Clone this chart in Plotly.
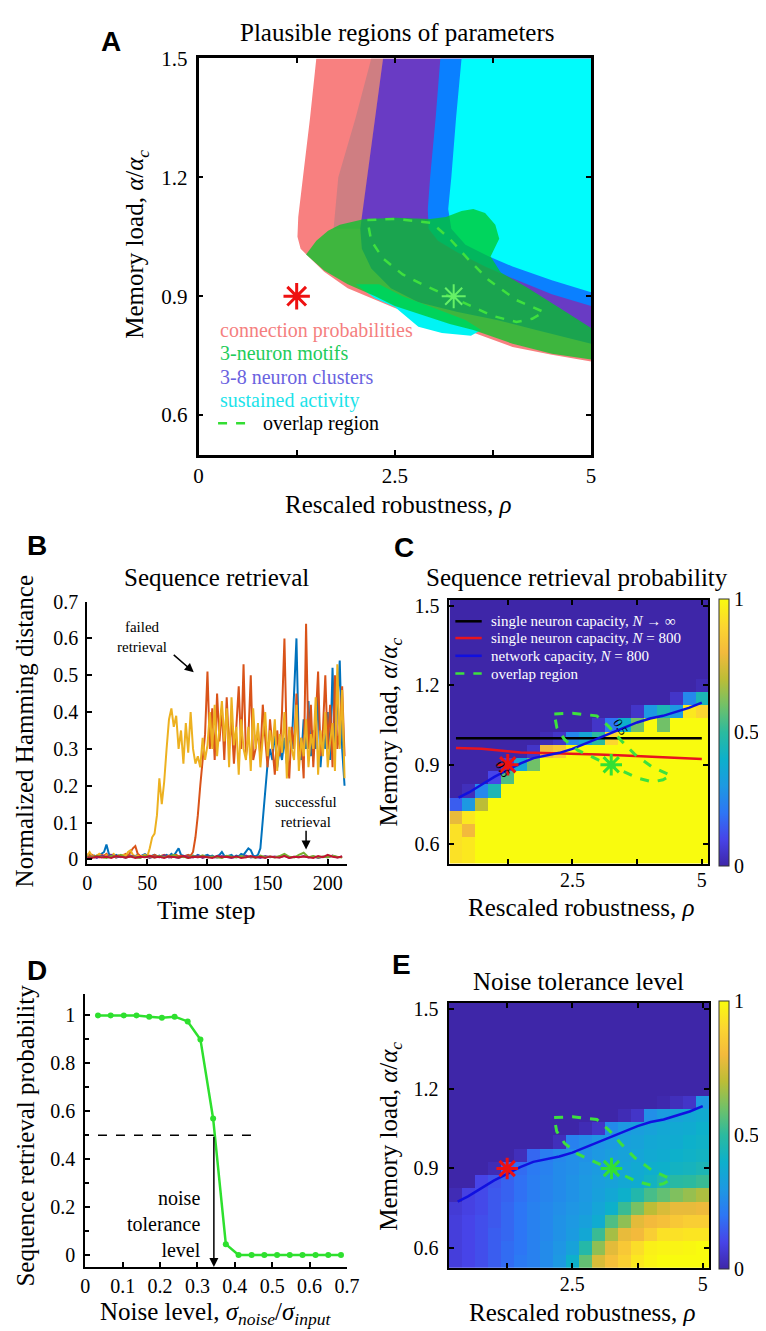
import plotly.graph_objects as go

W, H = 766, 1331
def px(v): return v / W
def py(v): return 1 - v / H

SERIF = "Liberation Serif"
SANS = "Liberation Sans"

# ---------------- Panel A: plausible regions ----------------
rho_ticks = [0, 1.25, 2.5, 3.75, 5]
rho_ticktext = ["0", "", "2.5", "", "5"]
load_ticks = [0.6, 0.9, 1.2, 1.5]
load_ticktext = ["0.6", "0.9", "1.2", "1.5"]

pink_x = [1.50, 1.42, 1.33, 1.27, 1.26, 1.30, 1.40, 1.60, 1.90, 2.25, 2.50, 3.00, 3.47, 4.00, 4.50, 5.00, 5.00]
pink_y = [1.50, 1.35, 1.20, 1.10, 1.05, 1.02, 1.00, 0.962, 0.92, 0.89, 0.87, 0.84, 0.81, 0.772, 0.752, 0.735, 1.50]

dusty_x = [2.20, 2.00, 1.78, 1.74, 1.72, 2.08, 2.10, 2.15, 2.25, 2.35]
dusty_y = [1.50, 1.35, 1.20, 1.10, 1.07, 1.07, 1.12, 1.20, 1.35, 1.50]

purple_x = [2.35, 2.25, 2.15, 2.10, 2.06, 2.08, 2.20, 2.45, 2.80, 3.30, 3.80, 4.30, 5.00, 5.00]
purple_y = [1.50, 1.35, 1.20, 1.12, 1.07, 1.02, 0.97, 0.92, 0.885, 0.86, 0.84, 0.815, 0.78, 1.50]

blue_x = [3.08, 3.02, 2.95, 2.92, 2.93, 3.05, 3.30, 3.65, 4.00, 4.50, 5.00, 5.00]
blue_y = [1.50, 1.35, 1.20, 1.12, 1.07, 1.04, 1.01, 0.975, 0.945, 0.905, 0.875, 1.50]

cyan_x = [3.35, 3.28, 3.22, 3.18, 3.22, 3.40, 3.70, 4.00, 4.50, 5.00, 5.00]
cyan_y = [1.50, 1.35, 1.20, 1.12, 1.07, 1.03, 1.00, 0.975, 0.94, 0.91, 1.50]

cblob_x = [2.00, 2.25, 2.50, 2.80, 3.10, 3.47, 3.60, 3.40, 3.00, 2.60, 2.30]
cblob_y = [0.93, 0.894, 0.873, 0.823, 0.807, 0.80, 0.815, 0.84, 0.87, 0.90, 0.93]

motif_x = [1.37, 1.50, 1.65, 1.80, 2.10, 2.50, 2.95, 3.15, 3.35, 3.50, 3.65, 3.78, 3.83, 3.72, 3.85, 4.20, 4.60, 5.00,
           5.00, 4.50, 4.00, 3.50, 3.20, 2.90, 2.50, 2.25, 1.90, 1.60, 1.37]
motif_y = [1.005, 1.04, 1.065, 1.08, 1.094, 1.098, 1.095, 1.10, 1.115, 1.12, 1.11, 1.08, 1.045, 1.00, 0.96, 0.92, 0.87, 0.82,
           0.74, 0.755, 0.78, 0.815, 0.83, 0.85, 0.875, 0.90, 0.93, 0.965, 1.005]

overlap_x = [2.15, 2.50, 2.97, 3.20, 3.45, 3.70, 4.05, 4.30, 4.40, 4.25, 4.05, 3.75, 3.31, 2.90, 2.60, 2.35, 2.20, 2.15]
overlap_y = [1.092, 1.095, 1.085, 1.045, 0.99, 0.94, 0.89, 0.87, 0.86, 0.843, 0.835, 0.85, 0.89, 0.925, 0.955, 0.995, 1.04, 1.092]

star_red = (1.25, 0.9)
star_green = (3.25, 0.9)

legendA_labels = ["connection probabilities", "3-neuron motifs", "3-8 neuron clusters", "sustained activity"]
legendA_colors = ["#F57F7F", "#22CC5A", "#6A62E0", "#1CE3EA"]

# ---------------- Panel B: sequence retrieval ----------------
hd_yellow = [0.01, 0.02, 0.01, 0.005, 0.01, 0.015, 0.01, 0.005, 0.012, 0.008, 0.01, 0.015, 0.006, 0.01, 0.008, 0.012,
             0.01, 0.02, 0.025, 0.012, 0.008, 0.01, 0.006, 0.01, 0.012, 0.008,
             0.03, 0.06, 0.07, 0.12, 0.22, 0.15, 0.21, 0.30, 0.38, 0.41, 0.36, 0.39, 0.30, 0.35, 0.26, 0.37, 0.29, 0.40,
             0.30, 0.26, 0.28, 0.25, 0.33, 0.27, 0.31, 0.40, 0.30, 0.42, 0.28, 0.36, 0.43, 0.32, 0.41, 0.25, 0.44, 0.31,
             0.36, 0.23, 0.38, 0.30, 0.27, 0.36, 0.24, 0.41, 0.30, 0.37, 0.25, 0.33, 0.40, 0.28, 0.35, 0.30, 0.38, 0.24,
             0.34, 0.29, 0.40, 0.22, 0.36, 0.30, 0.27, 0.42, 0.24, 0.33, 0.28, 0.38, 0.25, 0.34, 0.30, 0.44, 0.23, 0.35,
             0.28, 0.40, 0.25, 0.32, 0.37, 0.24, 0.53, 0.30, 0.46, 0.22]
hd_orange = [0.015, 0.01, 0.012, 0.008, 0.01, 0.006, 0.012, 0.01, 0.015, 0.008, 0.01, 0.012, 0.005, 0.01, 0.008, 0.012,
             0.015, 0.01, 0.02, 0.03, 0.036, 0.015, 0.01, 0.008, 0.012, 0.006, 0.01, 0.008, 0.012, 0.01, 0.006, 0.01,
             0.012, 0.008, 0.01, 0.005, 0.01, 0.012, 0.008, 0.01, 0.006, 0.01, 0.012, 0.01,
             0.02, 0.06, 0.12, 0.20, 0.27, 0.34, 0.51, 0.30, 0.41, 0.27, 0.45, 0.32, 0.41, 0.27, 0.44, 0.30, 0.38, 0.26,
             0.36, 0.47, 0.30, 0.53, 0.28, 0.33, 0.50, 0.27, 0.30, 0.35, 0.28, 0.42, 0.33, 0.25, 0.38, 0.30, 0.23, 0.35,
             0.28, 0.40, 0.60, 0.30, 0.22, 0.36, 0.30, 0.45, 0.27, 0.33, 0.22, 0.64, 0.30, 0.42, 0.25, 0.38, 0.51, 0.28,
             0.35, 0.50, 0.30, 0.42, 0.25, 0.50, 0.30, 0.35, 0.47, 0.28]
hd_blue = [0.01, 0.012, 0.008, 0.01, 0.006, 0.01, 0.015, 0.02, 0.04, 0.015, 0.01, 0.008, 0.012, 0.01, 0.006, 0.01,
           0.012, 0.008, 0.01, 0.006, 0.01, 0.012, 0.008, 0.01, 0.014, 0.01, 0.006, 0.01, 0.012, 0.008, 0.01, 0.006,
           0.01, 0.012, 0.008, 0.015, 0.01, 0.02, 0.03, 0.012,
           0.01, 0.008, 0.012, 0.006, 0.01, 0.008, 0.012, 0.01, 0.006, 0.01, 0.012, 0.008, 0.01, 0.006, 0.01, 0.012,
           0.02, 0.01, 0.008, 0.01, 0.012, 0.006, 0.01, 0.008, 0.015, 0.012, 0.02, 0.03, 0.025, 0.01, 0.008, 0.012,
           0.03, 0.10, 0.18, 0.26, 0.30, 0.27, 0.35, 0.25, 0.30, 0.27, 0.33, 0.26, 0.35, 0.30, 0.45, 0.60, 0.30, 0.27,
           0.38, 0.30, 0.43, 0.28, 0.35, 0.30, 0.45, 0.25, 0.34, 0.30, 0.40, 0.27, 0.52, 0.30, 0.42, 0.54, 0.30, 0.20]
hd_purple = [0.005, 0.008, 0.004, 0.01, 0.006, 0.012, 0.005, 0.008, 0.004, 0.01, 0.007, 0.005, 0.009, 0.004, 0.008,
             0.006, 0.011, 0.005, 0.007, 0.004, 0.009, 0.006, 0.005, 0.01, 0.004, 0.008, 0.006, 0.005, 0.009, 0.007,
             0.004, 0.008, 0.006, 0.01, 0.005, 0.007, 0.004, 0.009, 0.006, 0.008, 0.005, 0.01, 0.004, 0.007, 0.006,
             0.009, 0.005, 0.008, 0.004, 0.007, 0.006, 0.01, 0.005, 0.008]
hd_green = [0.008, 0.005, 0.01, 0.006, 0.004, 0.009, 0.007, 0.012, 0.005, 0.008, 0.006, 0.004, 0.01, 0.007, 0.005,
            0.009, 0.006, 0.008, 0.012, 0.005, 0.007, 0.004, 0.009, 0.006, 0.011, 0.005, 0.008, 0.006, 0.004, 0.01,
            0.007, 0.005, 0.009, 0.006, 0.008, 0.004, 0.01, 0.006, 0.008, 0.005, 0.009, 0.015, 0.007, 0.005, 0.012,
            0.018, 0.006, 0.009, 0.005, 0.008, 0.006, 0.01, 0.007, 0.005]
hd_red = [0.006, 0.004, 0.008, 0.005, 0.007, 0.004, 0.009, 0.006, 0.005, 0.008, 0.004, 0.007, 0.006, 0.009, 0.005,
          0.007, 0.004, 0.008, 0.006, 0.005, 0.009, 0.004, 0.007, 0.006, 0.008, 0.005, 0.004, 0.009, 0.006, 0.007,
          0.005, 0.008, 0.004, 0.006, 0.009, 0.005, 0.007, 0.004, 0.008, 0.006, 0.005, 0.009, 0.004, 0.007, 0.006,
          0.008, 0.005, 0.004, 0.009, 0.006, 0.012, 0.007, 0.005, 0.008]

# ---------------- Panel C/E grids ----------------
rho_centers = [0.25, 0.5, 0.75, 1.0, 1.25, 1.5, 1.75, 2.0, 2.25, 2.5, 2.75, 3.0, 3.25, 3.5, 3.75, 4.0, 4.25, 4.5, 4.75, 5.0]
load_centers = [0.55, 0.6, 0.65, 0.7, 0.75, 0.8, 0.85, 0.9, 0.95, 1.0, 1.05, 1.1, 1.15, 1.2, 1.25, 1.3, 1.35, 1.4, 1.45, 1.5]
cb_ticks = [0, 0.5, 1]
cb_ticktext = ["0", "0.5", "1"]

Z0 = [0] * 20
retrieval_prob = [
    [0.93, 0.95, 1, 1, 1, 1, 1, 1, 1, 1, 1, 1, 1, 1, 1, 1, 1, 1, 1, 1],
    [0.93, 0.95, 1, 1, 1, 1, 1, 1, 1, 1, 1, 1, 1, 1, 1, 1, 1, 1, 1, 1],
    [0.93, 0.80, 1, 1, 1, 1, 1, 1, 1, 1, 1, 1, 1, 1, 1, 1, 1, 1, 1, 1],
    [0.78, 0.95, 1, 1, 1, 1, 1, 1, 1, 1, 1, 1, 1, 1, 1, 1, 1, 1, 1, 1],
    [0.15, 0.30, 0.70, 1, 1, 1, 1, 1, 1, 1, 1, 1, 1, 1, 1, 1, 1, 1, 1, 1],
    [0, 0.03, 0.25, 0.45, 1, 1, 1, 1, 1, 1, 1, 1, 1, 1, 1, 1, 1, 1, 1, 1],
    [0, 0, 0, 0.10, 0.55, 1, 1, 1, 1, 1, 1, 1, 1, 1, 1, 1, 1, 1, 1, 1],
    [0, 0, 0, 0, 0.08, 0.35, 0.60, 1, 1, 1, 1, 1, 1, 1, 1, 1, 1, 1, 1, 1],
    [0, 0, 0, 0, 0, 0, 0.05, 0.80, 0.85, 1, 1, 1, 1, 1, 1, 1, 1, 1, 1, 1],
    [0, 0, 0, 0, 0, 0, 0, 0.02, 0.05, 0.25, 0.35, 0.50, 0.90, 1, 1, 1, 1, 1, 1, 1],
    [0, 0, 0, 0, 0, 0, 0, 0, 0, 0, 0, 0.05, 0.20, 0.40, 0.60, 1, 0.60, 1, 1, 1],
    [0, 0, 0, 0, 0, 0, 0, 0, 0, 0, 0, 0, 0, 0, 0.05, 0.30, 0.45, 0.30, 0.95, 0.90],
    [0, 0, 0, 0, 0, 0, 0, 0, 0, 0, 0, 0, 0, 0, 0, 0, 0, 0.05, 0.25, 0.45],
    [0, 0, 0, 0, 0, 0, 0, 0, 0, 0, 0, 0, 0, 0, 0, 0, 0, 0, 0, 0.02],
    Z0, Z0, Z0, Z0, Z0, Z0,
]

noise_tol = [
    [0.08, 0.10, 0.12, 0.15, 0.18, 0.21, 0.23, 0.26, 0.30, 0.40, 0.58, 0.75, 0.82, 0.88, 0.95, 0.98, 1.0, 1.0, 1.0, 1.0],
    [0.08, 0.10, 0.12, 0.15, 0.18, 0.20, 0.23, 0.26, 0.29, 0.34, 0.48, 0.64, 0.77, 0.85, 0.92, 0.97, 0.98, 0.98, 0.99, 1.0],
    [0.08, 0.10, 0.12, 0.15, 0.17, 0.20, 0.23, 0.25, 0.28, 0.31, 0.36, 0.52, 0.67, 0.78, 0.80, 0.87, 0.93, 0.93, 0.94, 0.94],
    [0.08, 0.10, 0.12, 0.14, 0.17, 0.20, 0.23, 0.25, 0.28, 0.30, 0.33, 0.38, 0.55, 0.64, 0.77, 0.80, 0.82, 0.85, 0.87, 0.87],
    [0.07, 0.09, 0.11, 0.14, 0.17, 0.20, 0.23, 0.25, 0.27, 0.29, 0.31, 0.35, 0.40, 0.52, 0.61, 0.70, 0.75, 0.78, 0.78, 0.79],
    [0.02, 0.09, 0.11, 0.14, 0.16, 0.19, 0.22, 0.24, 0.26, 0.28, 0.30, 0.33, 0.36, 0.40, 0.47, 0.54, 0.58, 0.62, 0.65, 0.68],
    [0, 0, 0.10, 0.13, 0.16, 0.19, 0.22, 0.24, 0.26, 0.28, 0.30, 0.32, 0.34, 0.36, 0.38, 0.42, 0.47, 0.49, 0.50, 0.52],
    [0, 0, 0, 0.02, 0.15, 0.18, 0.21, 0.23, 0.26, 0.27, 0.29, 0.31, 0.33, 0.35, 0.37, 0.39, 0.40, 0.42, 0.43, 0.45],
    [0, 0, 0, 0, 0, 0.03, 0.17, 0.22, 0.25, 0.27, 0.28, 0.30, 0.32, 0.34, 0.35, 0.37, 0.38, 0.40, 0.41, 0.42],
    [0, 0, 0, 0, 0, 0, 0, 0, 0.03, 0.23, 0.26, 0.29, 0.31, 0.33, 0.34, 0.36, 0.37, 0.38, 0.40, 0.41],
    [0, 0, 0, 0, 0, 0, 0, 0, 0, 0, 0.02, 0.05, 0.26, 0.30, 0.32, 0.34, 0.36, 0.37, 0.38, 0.40],
    [0, 0, 0, 0, 0, 0, 0, 0, 0, 0, 0, 0, 0, 0.02, 0.05, 0.27, 0.31, 0.34, 0.36, 0.38],
    [0, 0, 0, 0, 0, 0, 0, 0, 0, 0, 0, 0, 0, 0, 0, 0, 0.01, 0.03, 0.05, 0.30],
    Z0, Z0, Z0, Z0, Z0, Z0, Z0,
]

cap_x = [0.30, 0.50, 0.75, 1.00, 1.25, 1.50, 1.75, 2.00, 2.25, 2.50, 2.75, 3.00, 3.25, 3.50, 3.75, 4.00, 4.25, 4.50, 4.75, 5.00]
cap_y = [0.775, 0.795, 0.825, 0.855, 0.88, 0.905, 0.925, 0.935, 0.945, 0.96, 0.98, 1.00, 1.02, 1.04, 1.06, 1.075, 1.085, 1.10, 1.115, 1.135]
single_inf_x = [0.25, 5.0]
single_inf_y = [1.0, 1.0]
single_800_x = [0.25, 0.50, 0.75, 1.00, 1.25, 1.50, 1.75, 2.00, 2.50, 3.00, 3.50, 4.00, 4.50, 5.00]
single_800_y = [0.963, 0.962, 0.96, 0.956, 0.952, 0.946, 0.945, 0.944, 0.942, 0.939, 0.935, 0.931, 0.926, 0.922]

# ---------------- Panel D ----------------
noise_level = [0.034, 0.068, 0.103, 0.137, 0.171, 0.205, 0.239, 0.274, 0.308, 0.342, 0.376, 0.410, 0.445, 0.479,
               0.513, 0.547, 0.581, 0.616, 0.650, 0.684]
retr_prob = [1.0, 1.0, 1.0, 1.0, 0.995, 0.99, 0.995, 0.975, 0.90, 0.57, 0.045, 0.0, 0.0, 0.0, 0.0, 0.0, 0.0, 0.0, 0.0, 0.0]
half_x = [0.034, 0.462]
half_y = [0.5, 0.5]
tol_level = 0.344

parula = [[0.0, "#3E26A8"], [0.1, "#4744E8"], [0.2, "#2D76F5"], [0.3, "#1D99E2"], [0.4, "#0DB0CB"],
          [0.5, "#2BBA9F"], [0.6, "#71C168"], [0.7, "#BCBD36"], [0.8, "#F3BA3C"], [0.9, "#FCD630"], [1.0, "#F9FB0E"]]

fig = go.Figure()

def add(tr):
    fig.add_trace(tr)

def poly(x, y, color, xa="x", ya="y"):
    add(go.Scatter(x=x, y=y, mode="lines", fill="toself", fillcolor=color, line=dict(width=0, color=color),
                   hoverinfo="skip", showlegend=False, xaxis=xa, yaxis=ya))

def star(pt, color, size, width, xa, ya):
    add(go.Scatter(x=[pt[0]], y=[pt[1]], mode="markers", showlegend=False, hoverinfo="skip", xaxis=xa, yaxis=ya,
                   marker=dict(symbol="asterisk-open", size=size, color=color, line=dict(color=color, width=width))))

# Panel A
poly(pink_x, pink_y, "#F88080")
poly(dusty_x, dusty_y, "#CF7E82")
poly(purple_x, purple_y, "#693BC4")
poly(blue_x, blue_y, "#0A80FF")
poly(cyan_x, cyan_y, "#00FCFC")
poly(cblob_x, cblob_y, "#00F4F4")
poly(motif_x, motif_y, "rgba(0,200,40,0.75)")
add(go.Scatter(x=overlap_x, y=overlap_y, mode="lines", line=dict(color="#3EE03E", width=2.5, dash="dash"),
               showlegend=False, hoverinfo="skip", xaxis="x", yaxis="y"))
star(star_red, "#EE1111", 22, 3, "x", "y")
star(star_green, "#66F066", 20, 2, "x", "y")

# Panel B
for vals, col in [(hd_blue, "#0072BD"), (hd_orange, "#D95319"), (hd_yellow, "#EDB120")]:
    add(go.Scatter(x=[2 * i for i in range(len(vals))], y=vals, mode="lines", line=dict(color=col, width=2),
                   showlegend=False, hoverinfo="skip", xaxis="x2", yaxis="y2"))
for vals, col in [(hd_purple, "#7E2F8E"), (hd_green, "#77AC30"), (hd_red, "#C0142F")]:
    add(go.Scatter(x=[4 * i for i in range(len(vals))], y=vals, mode="lines", line=dict(color=col, width=2),
                   showlegend=False, hoverinfo="skip", xaxis="x2", yaxis="y2"))

# Panel C
add(go.Heatmap(x=rho_centers, y=load_centers, z=retrieval_prob, coloraxis="coloraxis", xaxis="x3", yaxis="y3",
               hoverinfo="skip"))
add(go.Scatter(x=single_inf_x, y=single_inf_y, mode="lines", line=dict(color="black", width=2.5),
               showlegend=False, xaxis="x3", yaxis="y3"))
add(go.Scatter(x=single_800_x, y=single_800_y, mode="lines", line=dict(color="#E8141E", width=2.5),
               showlegend=False, xaxis="x3", yaxis="y3"))
add(go.Scatter(x=cap_x, y=cap_y, mode="lines", line=dict(color="#1010E0", width=2.5),
               showlegend=False, xaxis="x3", yaxis="y3"))
add(go.Scatter(x=overlap_x, y=overlap_y, mode="lines", line=dict(color="#3EE03E", width=3, dash="dash"),
               showlegend=False, xaxis="x3", yaxis="y3"))
star(star_red, "#EE1111", 18, 3, "x3", "y3")
star(star_green, "#33E033", 18, 3, "x3", "y3")

# Panel D
add(go.Scatter(x=half_x, y=half_y, mode="lines", line=dict(color="black", width=1.5, dash="dash"),
               showlegend=False, xaxis="x4", yaxis="y4"))
add(go.Scatter(x=noise_level, y=retr_prob, mode="lines+markers", line=dict(color="#2EE02E", width=2.5),
               marker=dict(color="#2EE02E", size=6), showlegend=False, xaxis="x4", yaxis="y4"))

# Panel E
add(go.Heatmap(x=rho_centers, y=load_centers, z=noise_tol, coloraxis="coloraxis2", xaxis="x5", yaxis="y5",
               hoverinfo="skip"))
add(go.Scatter(x=cap_x, y=cap_y, mode="lines", line=dict(color="#1010E0", width=2.5),
               showlegend=False, xaxis="x5", yaxis="y5"))
add(go.Scatter(x=overlap_x, y=overlap_y, mode="lines", line=dict(color="#3EE03E", width=3, dash="dash"),
               showlegend=False, xaxis="x5", yaxis="y5"))
star(star_red, "#EE1111", 18, 3, "x5", "y5")
star(star_green, "#33E033", 18, 3, "x5", "y5")

def ax(domain, rng, tickvals=None, ticktext=None, mirror=False, lw=2, anchor=None, fs=20, **kw):
    d = dict(domain=domain, range=rng, showline=True, linecolor="black", linewidth=lw, mirror=mirror,
             ticks="inside", ticklen=5, tickwidth=1.5, tickcolor="black", showgrid=False, zeroline=False,
             tickfont=dict(family=SERIF, size=fs, color="black"), fixedrange=True, anchor=anchor)
    if tickvals is not None:
        d["tickvals"] = tickvals
    if ticktext is not None:
        d["ticktext"] = ticktext
    d.update(kw)
    return d

def cbar(top, bottom):
    return dict(x=px(723), xanchor="left", xpad=0, ypad=0, y=py((top + bottom) / 2), yanchor="middle",
                len=bottom - top, lenmode="pixels", thickness=10, thicknessmode="pixels",
                outlinewidth=1, outlinecolor="#333333", tickvals=cb_ticks, ticktext=cb_ticktext, ticks="",
                tickfont=dict(family=SERIF, size=20, color="black"))

dec_ticks = [0, 0.1, 0.2, 0.3, 0.4, 0.5, 0.6, 0.7]
dec_text = ["0", "0.1", "0.2", "0.3", "0.4", "0.5", "0.6", "0.7"]

layout = dict(
    width=W, height=H, margin=dict(l=0, r=0, t=0, b=0), paper_bgcolor="white", plot_bgcolor="white",
    showlegend=False,
    xaxis=ax([px(190), px(592)], [0, 5], rho_ticks, rho_ticktext, mirror="ticks", lw=2.5, anchor="y", fs=21),
    yaxis=ax([py(441), py(39)], [0.5, 1.5], load_ticks, load_ticktext, mirror="ticks", lw=2.5, anchor="x", fs=21,
             ticklabelstandoff=4),
    xaxis2=ax([px(76), px(342)], [0, 216], [0, 50, 100, 150, 200], None, anchor="y2"),
    yaxis2=ax([py(856), py(590)], [-0.012, 0.7], dec_ticks, dec_text, anchor="x2", ticklabelstandoff=3),
    xaxis3=ax([px(447), px(712)], [0.125, 5.125], [1.25, 2.5, 3.75, 5], ["", "2.5", "", "5"], mirror="ticks", anchor="y3",
              ticklabelstandoff=-3),
    yaxis3=ax([py(856), py(588)], [0.525, 1.525], load_ticks, load_ticktext, mirror="ticks", anchor="x3",
              ticklabelstandoff=4),
    xaxis4=ax([px(74), px(342)], [0, 0.7], dec_ticks, dec_text, anchor="y4"),
    yaxis4=ax([py(1265), py(988)], [-0.05, 1.09], [0, 0.2, 0.4, 0.6, 0.8, 1.0], ["0", "0.2", "0.4", "0.6", "0.8", "1"],
              anchor="x4", ticklabelstandoff=4,
              minor=dict(tickvals=[0.1, 0.3, 0.5, 0.7, 0.9], ticks="inside", ticklen=4, tickcolor="black")),
    xaxis5=ax([px(446), px(713)], [0.125, 5.125], [1.25, 2.5, 3.75, 5], ["", "2.5", "", "5"], mirror="ticks", anchor="y5",
              ticklabelstandoff=-3),
    yaxis5=ax([py(1266), py(997)], [0.525, 1.525], load_ticks, load_ticktext, mirror="ticks", anchor="x5",
              ticklabelstandoff=4),
    coloraxis=dict(cmin=0, cmax=1, colorscale=parula, colorbar=cbar(589, 856)),
    coloraxis2=dict(cmin=0, cmax=1, colorscale=parula, colorbar=cbar(997, 1265)),
)
fig.update_layout(**layout)

ann = []
def txt(x, y, text, size=25, color="black", family=SERIF, angle=0, xanchor="center", yanchor="middle", align="center"):
    ann.append(dict(x=px(x), y=py(y), xref="paper", yref="paper", text=text, showarrow=False, textangle=angle,
                    font=dict(family=family, size=size, color=color), xanchor=xanchor, yanchor=yanchor, align=align))

# panel letters
for L, x, y in [("A", 100, 22), ("B", 25, 533), ("C", 400, 535), ("D", 25, 964), ("E", 398, 958)]:
    txt(x, y, "<b>%s</b>" % L, size=28, family=SANS)

# titles
txt(394, 13, "Plausible regions of parameters")
txt(208, 566, "Sequence retrieval")
txt(578, 566, "Sequence retrieval probability")
txt(579, 975, "Noise tolerance level")

ylab = "Memory load, <i>α</i>/<i>α<sub>c</sub></i>"
xlab = "Rescaled robustness, <i>ρ</i>"
txt(127, 228, ylab, angle=-90)
txt(395, 492, xlab)
txt(12, 722, "Normalized Hamming distance", angle=-90)
txt(198, 903, "Time step")
txt(387, 722, ylab, angle=-90)
txt(582, 900, xlab)
txt(13, 1132, "Sequence retrieval probability", angle=-90)
txt(207, 1312, "Noise level, <i>σ<sub>noise</sub></i>/<i>σ<sub>input</sub></i>")
txt(387, 1132, ylab, angle=-90)
txt(583, 1311, xlab)

# panel A legend
for lab, col, yy in zip(legendA_labels, legendA_colors, [315, 338, 362, 386]):
    txt(210, yy, lab, size=20, color=col, xanchor="left")
txt(254, 409, "overlap region", size=20, xanchor="left")

# panel C legend
legC = ["single neuron capacity, <i>N</i> → ∞", "single neuron capacity, <i>N</i> = 800",
        "network capacity, <i>N</i> = 800", "overlap region"]
legC_rows = [610, 627, 645, 663]
for lab, yy in zip(legC, legC_rows):
    txt(487, yy, lab, size=15, color="white", xanchor="left")

# data-anchored annotations
ann.append(dict(x=88.6, y=0.508, ax=70.7, ay=0.559, xref="x2", yref="y2", axref="x2", ayref="y2", text="",
                showarrow=True, arrowhead=2, arrowsize=1.2, arrowwidth=1.5, arrowcolor="black"))
ann.append(dict(x=45.5, y=0.604, xref="x2", yref="y2", text="failed<br>retrieval", showarrow=False,
                font=dict(family=SERIF, size=15, color="black")))
ann.append(dict(x=182, y=0.027, ax=182, ay=0.082, xref="x2", yref="y2", axref="x2", ayref="y2", text="",
                showarrow=True, arrowhead=2, arrowsize=1.2, arrowwidth=1.5, arrowcolor="black"))
ann.append(dict(x=182, y=0.128, xref="x2", yref="y2", text="successful<br>retrieval", showarrow=False,
                font=dict(family=SERIF, size=15, color="black")))
ann.append(dict(x=tol_level, y=-0.05, ax=tol_level, ay=0.5, xref="x4", yref="y4", axref="x4", ayref="y4", text="",
                showarrow=True, arrowhead=2, arrowsize=1.2, arrowwidth=1.5, arrowcolor="black"))
ann.append(dict(x=0.315, y=0.13, xref="x4", yref="y4", text="noise<br>tolerance<br>level", showarrow=False,
                xanchor="right", align="right", font=dict(family=SERIF, size=20, color="black")))
for cx, cy in [(1.15, 0.885), (3.43, 1.045)]:
    ann.append(dict(x=cx, y=cy, xref="x3", yref="y3", text="0.5", showarrow=False, textangle=60,
                    font=dict(family=SERIF, size=13, color="black")))

shapes = [
    dict(type="line", xref="paper", yref="paper", x0=px(210), x1=px(242), y0=py(409), y1=py(409),
         line=dict(color="#33DD33", width=2.5, dash="dash")),
]
for col, yy, dash in [("black", 610, "solid"), ("#E8141E", 627, "solid"), ("#1010E0", 645, "solid"), ("#3EE03E", 663, "dash")]:
    shapes.append(dict(type="line", xref="paper", yref="paper", x0=px(453), x1=px(480), y0=py(yy), y1=py(yy),
                       line=dict(color=col, width=2.5, dash=dash)))

fig.update_layout(annotations=ann, shapes=shapes)
fig.write_html("out.html")
